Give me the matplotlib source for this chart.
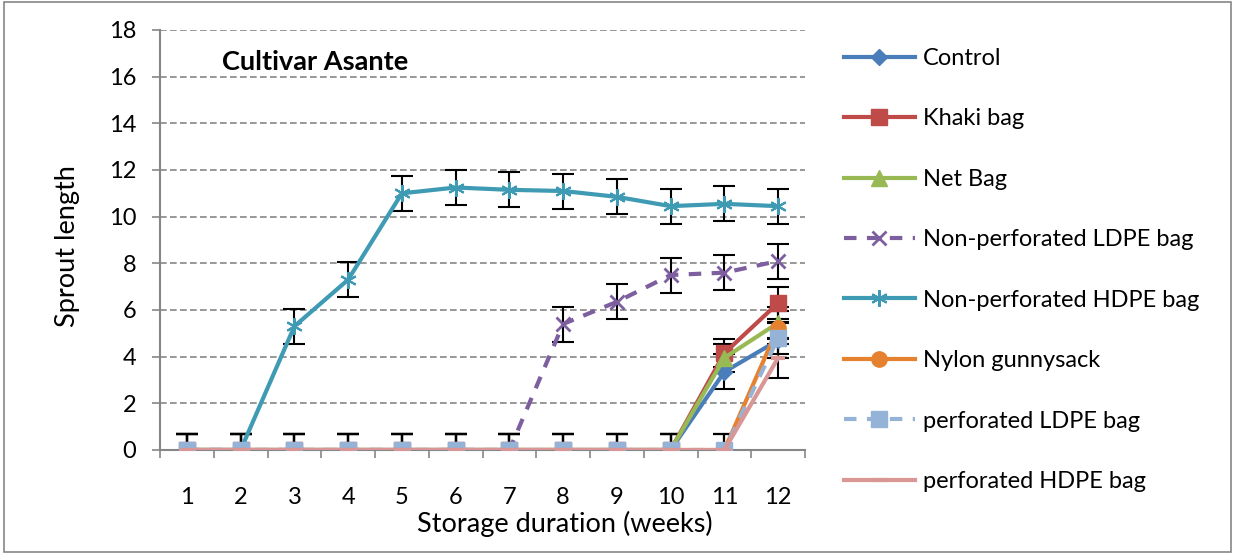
import matplotlib
matplotlib.use("Agg")
import matplotlib.pyplot as plt
from matplotlib.patches import Rectangle

plt.rcParams['font.family'] = ['Lato', 'DejaVu Sans']

weeks = [1, 2, 3, 4, 5, 6, 7, 8, 9, 10, 11, 12]
control = [0, 0, 0, 0, 0, 0, 0, 0, 0, 0, 3.35, 4.7]
khaki = [0, 0, 0, 0, 0, 0, 0, 0, 0, 0, 4.15, 6.3]
net_bag = [0, 0, 0, 0, 0, 0, 0, 0, 0, 0, 3.95, 5.45]
np_ldpe = [0, 0, 0, 0, 0, 0, 0, 5.4, 6.35, 7.5, 7.6, 8.1]
np_hdpe = [0, 0, 5.3, 7.3, 11.0, 11.25, 11.15, 11.1, 10.85, 10.45, 10.55, 10.45]
nylon = [0, 0, 0, 0, 0, 0, 0, 0, 0, 0, 0, 5.25]
p_ldpe = [0, 0, 0, 0, 0, 0, 0, 0, 0, 0, 0, 4.8]
p_hdpe = [0, 0, 0, 0, 0, 0, 0, 0, 0, 0, 0, 3.95]

err_control = [0.7] * 10 + [0.75, 0.75]
err_khaki = [0.7] * 10 + [0.6, 0.7]
err_net = [0.7] * 10 + [0.6, 0.7]
err_np_ldpe = [0.7] * 7 + [0.75, 0.75, 0.75, 0.75, 0.75]
err_np_hdpe = [0.7, 0.7, 0.75, 0.75, 0.75, 0.75, 0.75, 0.75, 0.75, 0.75, 0.75, 0.75]
err_nylon = [0.7] * 12
err_p_ldpe = [0.7] * 12
err_p_hdpe = [0.7] * 11 + [0.85]

series = [
    ("Control", control, err_control, dict(color="#4A7EBB", marker="D", ms=8, ls="-")),
    ("Khaki bag", khaki, err_khaki, dict(color="#BE4B48", marker="s", ms=11, ls="-")),
    ("Net Bag", net_bag, err_net, dict(color="#98B954", marker="^", ms=11, ls="-")),
    ("Non-perforated LDPE bag", np_ldpe, err_np_ldpe,
     dict(color="#7D5FA0", marker="x", ms=10, mew=2, ls=(0, (3, 2.5)))),
    ("Non-perforated HDPE bag", np_hdpe, err_np_hdpe,
     dict(color="#3F9AB3", marker=(6, 2, 0), ms=12, mew=1.5, ls="-")),
    ("Nylon gunnysack", nylon, err_nylon, dict(color="#E5812F", marker="o", ms=11, ls="-")),
    ("perforated LDPE bag", p_ldpe, err_p_ldpe,
     dict(color="#95B3D7", marker="s", ms=12, ls=(0, (3, 2.5)))),
    ("perforated HDPE bag", p_hdpe, err_p_hdpe,
     dict(color="#D99694", marker="_", ms=10, mew=3, ls="-")),
]

fig = plt.figure(figsize=(12.35, 5.54), dpi=100)
ax = fig.add_axes([160 / 1235, 104 / 554, 645 / 1235, 420 / 554])

for i, (name, vals, err, st) in enumerate(series):
    ax.errorbar(weeks, vals, yerr=err, fmt="none", ecolor="black", elinewidth=1.5,
                capsize=8, capthick=1.5, zorder=2)
for i, (name, vals, err, st) in enumerate(series):
    st = dict(st)
    col = st.pop("color")
    ax.plot(weeks, vals, color=col, lw=3, mfc=col, mec=col, label=name,
            zorder=3 + i, **st)

ax.set_xlim(0.5, 12.5)
ax.set_ylim(0, 18)
ax.set_yticks(range(0, 19, 2))
ax.set_xticks(weeks)
ax.set_xticks([w + 0.5 for w in [0] + weeks], minor=True)
ax.tick_params(axis="x", which="major", length=0, labelsize=17, pad=27)
ax.tick_params(axis="x", which="minor", length=6, color="#868686", width=1.2)
ax.tick_params(axis="y", length=6, color="#868686", width=1.2, labelsize=17, pad=11)
ax.yaxis.grid(True, ls=(0, (4, 2)), color="#868686", lw=1.2)
ax.set_axisbelow(True)
for s in ["top", "right"]:
    ax.spines[s].set_visible(False)
for s in ["left", "bottom"]:
    ax.spines[s].set_color("#868686")
    ax.spines[s].set_linewidth(1.5)

ax.set_xlabel("Storage duration (weeks)", fontsize=19.5)
ax.xaxis.set_label_coords((565 - 160) / 645, (450 - 511) / 420)
ax.set_ylabel("Sprout length", fontsize=19.5)
ax.yaxis.set_label_coords((80 - 160) / 645, (450 - 246) / 420)
ax.text(62 / 645, (450 - 62) / 420, "Cultivar Asante", transform=ax.transAxes,
        fontsize=19.5, fontweight="bold", va="center", ha="left")

leg = fig.legend(loc="upper left", bbox_to_anchor=(844 / 1235, 1 - 48 / 554),
                 frameon=False, fontsize=17, labelspacing=1.67, handlelength=3.0,
                 handletextpad=0.33, borderpad=0, borderaxespad=0)

fig.add_artist(Rectangle((0.003, 0.003), 0.994, 0.994, transform=fig.transFigure,
                         fill=False, ec="#868686", lw=1.2))

fig.savefig("out.png", dpi=100)
